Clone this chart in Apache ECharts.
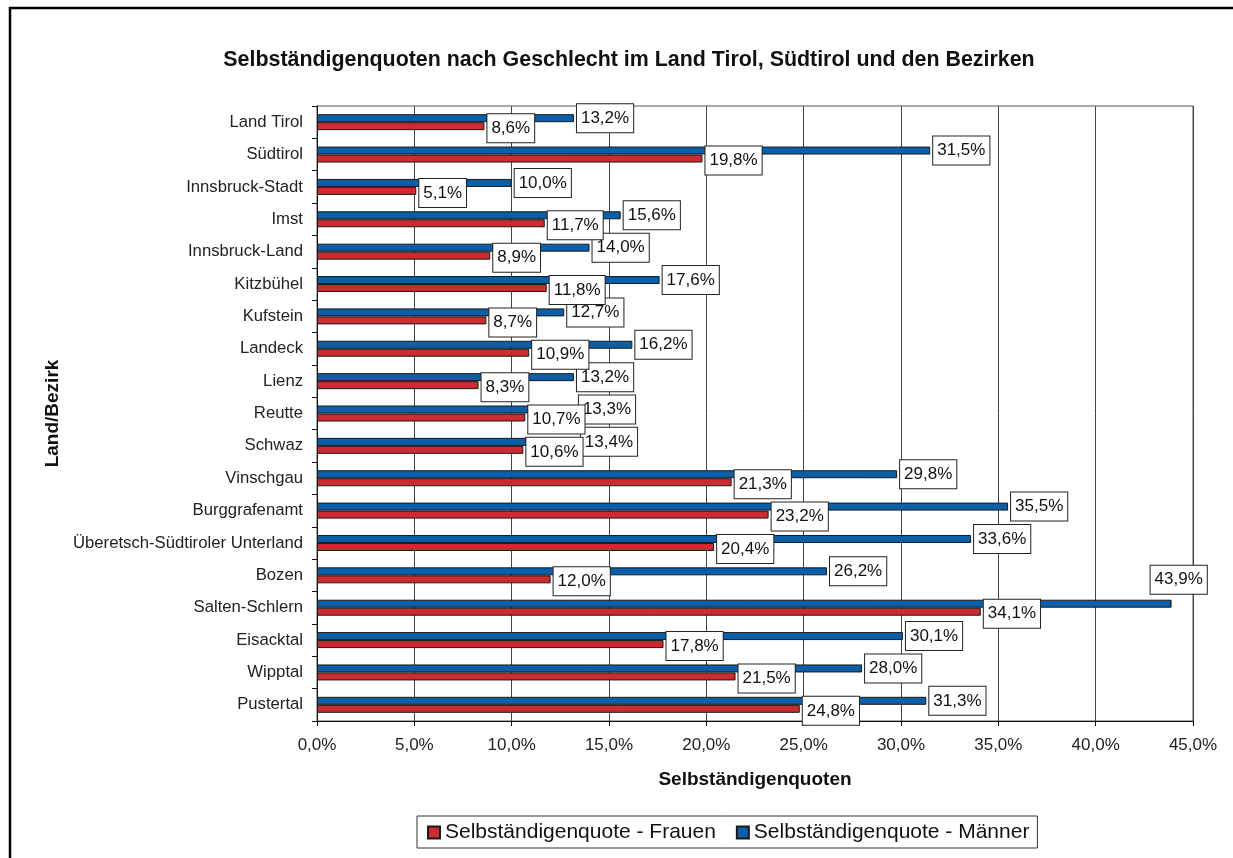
<!DOCTYPE html>
<html><head><meta charset="utf-8">
<script src="https://cdn.jsdelivr.net/npm/echarts@6/dist/echarts.min.js"></script>
<style>html,body{margin:0;padding:0;background:#fff}#c{width:1233px;height:858px}</style>
</head><body><div id="c"></div>
<script>
const categories = ["Land Tirol","Südtirol","Innsbruck-Stadt","Imst","Innsbruck-Land","Kitzbühel","Kufstein","Landeck","Lienz","Reutte","Schwaz","Vinschgau","Burggrafenamt","Überetsch-Südtiroler Unterland","Bozen","Salten-Schlern","Eisacktal","Wipptal","Pustertal"];
const frauen = [8.6,19.8,5.1,11.7,8.9,11.8,8.7,10.9,8.3,10.7,10.6,21.3,23.2,20.4,12.0,34.1,17.8,21.5,24.8];
const maenner = [13.2,31.5,10.0,15.6,14.0,17.6,12.7,16.2,13.2,13.3,13.4,29.8,35.5,33.6,26.2,43.9,30.1,28.0,31.3];
const xTicks = [0,5,10,15,20,25,30,35,40,45];
const seriesNames = ["Selbständigenquote - Frauen","Selbständigenquote - Männer"];

const FONT = '"Liberation Sans", Arial, sans-serif';
const fmt = v => v.toFixed(1).replace('.', ',') + '%';
const labelBase = {
  show: true, position: 'right', distance: 3, color: '#111', fontFamily: FONT, fontSize: 17,
  backgroundColor: '#fff', borderColor: '#222', borderWidth: 1, padding: [6, 4, 5, 4],
  formatter: p => fmt(p.value)
};
const xMax = xTicks[xTicks.length - 1];
function mData(arr) {
  return arr.map(v => {
    if (v > xMax - 3) return { value: v, label: { offset: [-24, -24] } };
    return v;
  });
}

const chart = echarts.init(document.getElementById('c'));
chart.setOption({
  animation: false,
  backgroundColor: '#fff',
  textStyle: { fontFamily: FONT },
  title: {
    text: 'Selbständigenquoten nach Geschlecht im Land Tirol, Südtirol und den Bezirken',
    left: 624, textAlign: 'center', top: 45,
    textStyle: { fontFamily: FONT, fontSize: 21.4, fontWeight: 'bold', color: '#111' }
  },
  legend: {
    top: 816, left: 417, itemWidth: 12, itemHeight: 12, itemGap: 20,
    borderColor: '#333', borderWidth: 1, padding: [6, 8, 5, 10],
    textStyle: { fontFamily: FONT, fontSize: 21, color: '#111' },
    data: seriesNames.map(n => ({ name: n, icon: 'rect' }))
  },
  grid: { left: 317, right: 40, top: 106, bottom: 137, show: true, borderColor: '#555', borderWidth: 1, containLabel: false },
  xAxis: {
    type: 'value', min: 0, max: xMax, interval: 5,
    name: 'Selbständigenquoten', nameLocation: 'middle', nameGap: 49,
    nameTextStyle: { fontFamily: FONT, fontSize: 19, fontWeight: 'bold', color: '#111' },
    axisLine: { show: true, lineStyle: { color: '#111' } },
    axisTick: { show: true, length: 5, lineStyle: { color: '#111' } },
    splitLine: { show: true, lineStyle: { color: '#444', width: 1 } },
    axisLabel: { fontFamily: FONT, fontSize: 17, color: '#222', margin: 16, formatter: v => fmt(v) }
  },
  yAxis: {
    type: 'category', data: categories, inverse: true,
    name: 'Land/Bezirk', nameLocation: 'middle', nameGap: 248, nameRotate: 90,
    nameTextStyle: { fontFamily: FONT, fontSize: 19, fontWeight: 'bold', color: '#111' },
    axisLine: { show: true, lineStyle: { color: '#111' } },
    axisTick: { show: true, length: 5, lineStyle: { color: '#111' } },
    axisLabel: { fontFamily: FONT, fontSize: 16.7, color: '#222', margin: 14 }
  },
  series: [
    {
      name: seriesNames[1], type: 'bar', data: mData(maenner), barWidth: 8, barGap: '0%',
      itemStyle: { color: '#0A5FA8', borderColor: '#1a1a1a', borderWidth: 1 },
      label: Object.assign({}, labelBase)
    },
    {
      name: seriesNames[0], type: 'bar', data: frauen, barWidth: 8, barGap: '0%',
      itemStyle: { color: '#CC2B2F', borderColor: '#1a1a1a', borderWidth: 1 },
      label: Object.assign({}, labelBase, { offset: [0, 2] })
    }
  ],
  graphic: [{
    type: 'rect', silent: true, z: 100,
    shape: { x: 10, y: 8, width: 1400, height: 1000 },
    style: { fill: 'none', stroke: '#000', lineWidth: 2.5 }
  }]
});
</script></body></html>
